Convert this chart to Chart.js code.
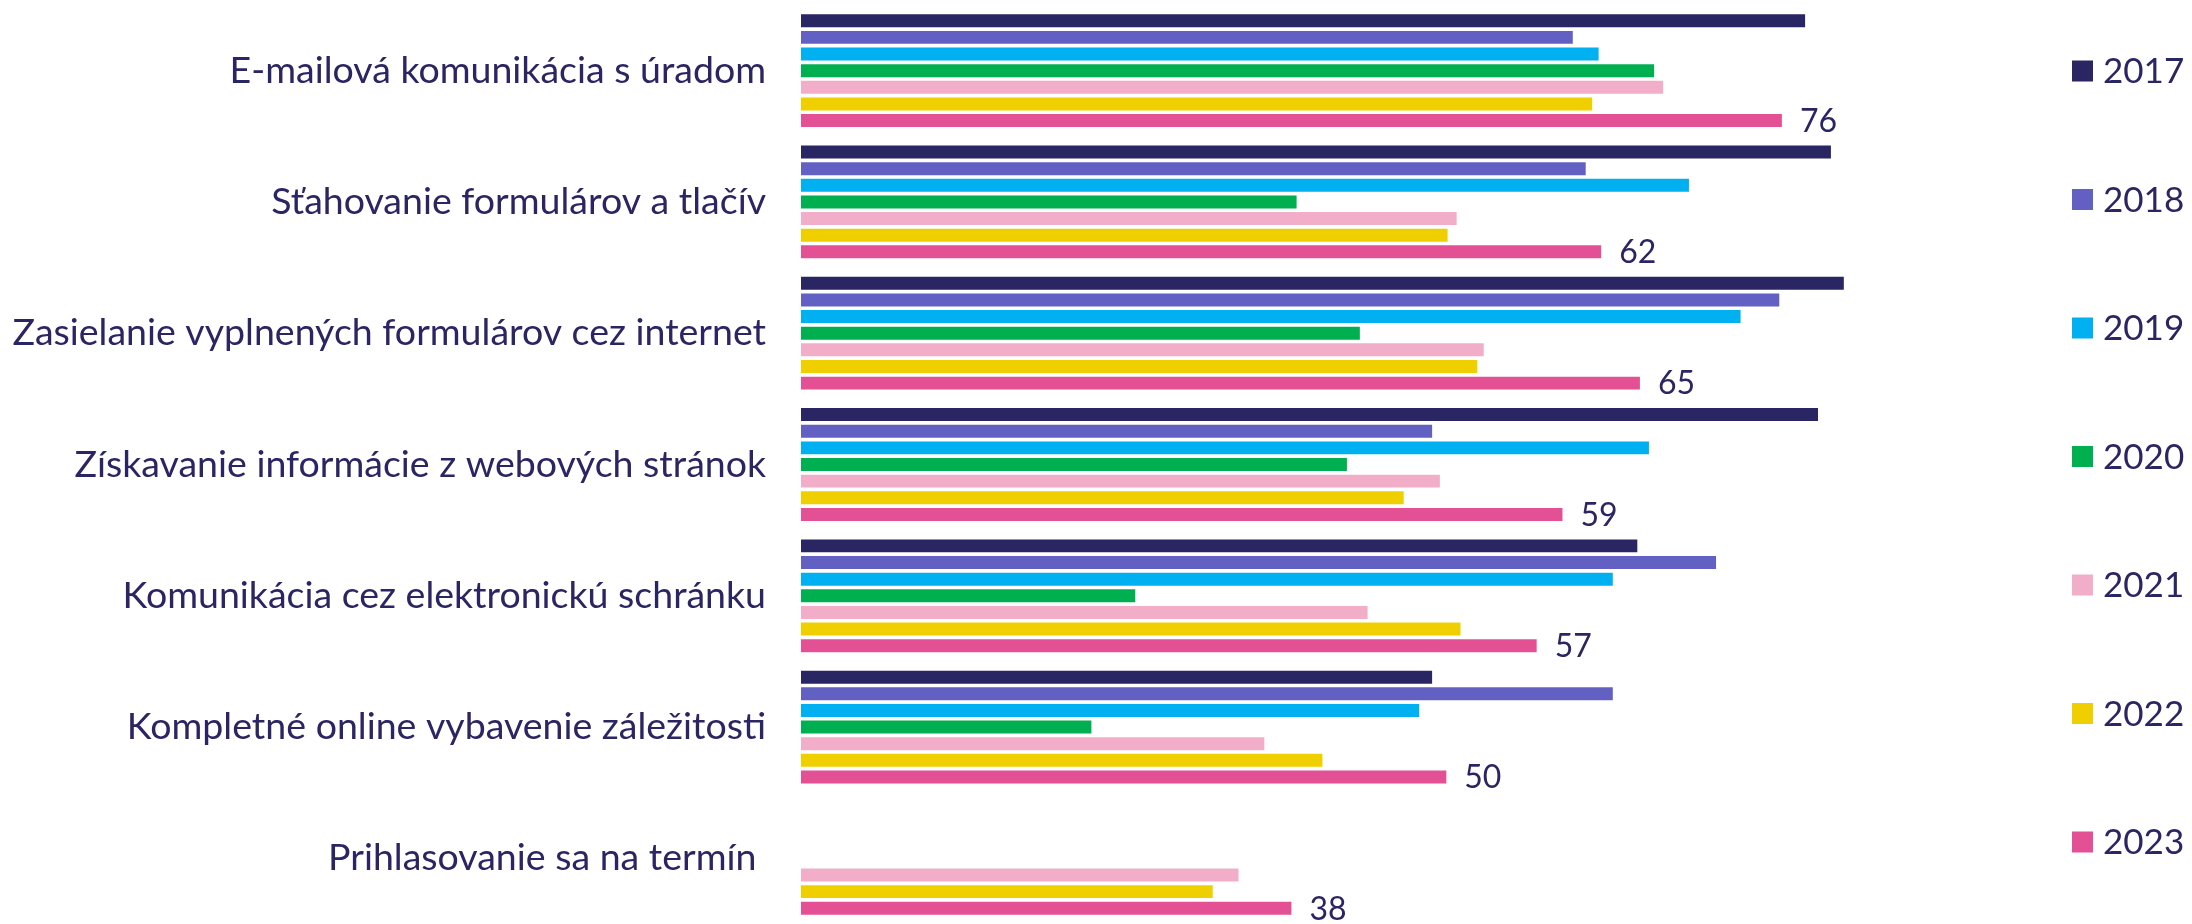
<!DOCTYPE html>
<html lang="sk">
<head>
<meta charset="utf-8">
<title>Využívanie elektronických služieb úradu</title>
<script src="https://cdn.jsdelivr.net/npm/chart.js@4.4.1/dist/chart.umd.min.js"></script>
<style>
  html, body { margin: 0; padding: 0; background: #ffffff; }
  #wrap { width: 2192px; height: 924px; position: relative; }
</style>
</head>
<body>
<div id="wrap"><canvas id="chart" width="2192" height="924"></canvas></div>
<script>
// Categories (services) and survey years
const categories = [
  'E-mailová komunikácia s úradom',
  'Sťahovanie formulárov a tlačív',
  'Zasielanie vyplnených formulárov cez internet',
  'Získavanie informácie z webových stránok',
  'Komunikácia cez elektronickú schránku',
  'Kompletné online vybavenie záležitosti',
  'Prihlasovanie sa na termín '
];
const years = ['2017', '2018', '2019', '2020', '2021', '2022', '2023'];

// Share of respondents (%) per year, one array per year
const v2017 = [77.8, 79.8, 80.8, 78.8, 64.8, 48.9, null];
const v2018 = [59.8, 60.8, 75.8, 48.9, 70.9, 62.9, null];
const v2019 = [61.8, 68.8, 72.8, 65.7, 62.9, 47.9, null];
const v2020 = [66.1, 38.4, 43.3, 42.3, 25.9, 22.5, null];
const v2021 = [66.8, 50.8, 52.9, 49.5, 43.9, 35.9, 33.9];
const v2022 = [61.3, 50.1, 52.4, 46.7, 51.1, 40.4, 31.9];
const v2023 = [76, 62, 65, 59, 57, 50, 38];

const series = [v2017, v2018, v2019, v2020, v2021, v2022, v2023];
const colors = ['#2a2563', '#6360c4', '#00b0f0', '#00b050', '#f2aec9', '#f0cf00', '#e45094'];
const textColor = '#2a2563';

// Value labels after the 2023 bars
const valueLabels = {
  id: 'valueLabels',
  afterDatasetsDraw(chart) {
    const idx = chart.data.datasets.length - 1;
    const meta = chart.getDatasetMeta(idx);
    const ctx = chart.ctx;
    ctx.save();
    ctx.font = '32px Lato';
    ctx.fillStyle = textColor;
    ctx.textAlign = 'left';
    ctx.textBaseline = 'middle';
    meta.data.forEach((bar, i) => {
      const v = chart.data.datasets[idx].data[i];
      if (v == null) return;
      ctx.fillText(String(v), bar.x + 18, bar.y + 1);
    });
    ctx.restore();
  }
};

// Vertical legend on the right side
const sideLegend = {
  id: 'sideLegend',
  afterDraw(chart) {
    const ctx = chart.ctx;
    ctx.save();
    ctx.font = '35px Lato';
    ctx.textAlign = 'left';
    ctx.textBaseline = 'middle';
    chart.data.datasets.forEach((ds, i) => {
      const cy = 71 + i * 128.5;
      ctx.fillStyle = ds.backgroundColor;
      ctx.fillRect(2072, cy - 10.5, 21, 21);
      ctx.fillStyle = textColor;
      ctx.fillText(ds.label, 2103, cy + 1);
    });
    ctx.restore();
  }
};

function draw() {
  new Chart(document.getElementById('chart'), {
    type: 'bar',
    data: {
      labels: categories,
      datasets: years.map((y, i) => ({
        label: y,
        data: series[i],
        backgroundColor: colors[i],
        borderWidth: 0,
        categoryPercentage: 0.887,
        barPercentage: 0.78
      }))
    },
    options: {
      indexAxis: 'y',
      responsive: false,
      animation: false,
      devicePixelRatio: 1,
      layout: { padding: { left: 0, right: 152, top: 5, bottom: -4 } },
      plugins: {
        legend: { display: false },
        tooltip: { enabled: false }
      },
      scales: {
        x: { display: false, min: 0, max: 96 },
        y: {
          grid: { display: false, drawTicks: false },
          border: { display: false },
          ticks: {
            color: textColor,
            font: { family: 'Lato', size: 37.5 },
            padding: 35
          },
          afterFit(scale) {
            // fixed axis width; labels shouldn't shrink the plot vertically
            scale.width = 801;
            scale.paddingTop = 0;
            scale.paddingBottom = 0;
          }
        }
      }
    },
    plugins: [valueLabels, sideLegend]
  });
}

if (document.fonts && document.fonts.load) {
  Promise.all([document.fonts.load('36px Lato'), document.fonts.load('32px Lato')]).then(draw, draw);
} else {
  draw();
}
</script>
</body>
</html>
